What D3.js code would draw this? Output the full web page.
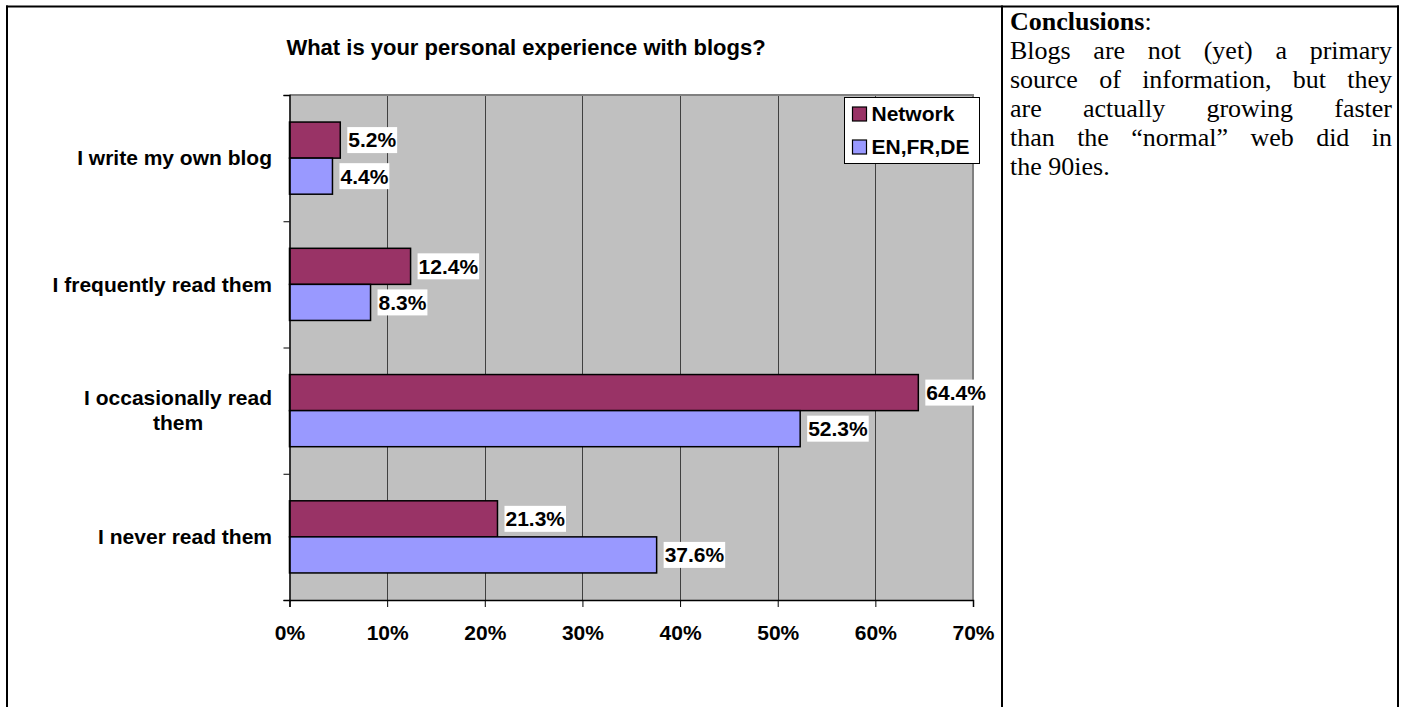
<!DOCTYPE html>
<html>
<head>
<meta charset="utf-8">
<script src="https://cdn.jsdelivr.net/npm/d3@7/dist/d3.min.js"></script>
<style>
  html, body { margin: 0; padding: 0; background: #fff; }
  svg { display: block; }
</style>
</head>
<body>
<svg id="page" width="1403" height="707"></svg>
<script>
// Survey answers, top to bottom
const categories = [
  "I write my own blog",
  "I frequently read them",
  "I occasionally read them",
  "I never read them"
];
const seriesNames = ["Network", "EN,FR,DE"];
const networkValues = [5.2, 12.4, 64.4, 21.3];
const enFrDeValues = [4.4, 8.3, 52.3, 37.6];
const xTicks = [0, 10, 20, 30, 40, 50, 60, 70];
const seriesColors = ["#993366", "#9999FF"];

const chartTitle = "What is your personal experience with blogs?";
const noteHeading = "Conclusions";
const noteLines = [
  "Blogs are not (yet) a primary",
  "source of information, but they",
  "are actually growing faster",
  "than the \u201cnormal\u201d web did in",
  "the 90ies."
];

const sans = "'Liberation Sans', Arial, sans-serif";
const serif = "'Liberation Serif', 'Times New Roman', serif";
const fs = 21;

const svg = d3.select("#page");

// ---- table frame around the chart cell and the notes cell ----
const frame = svg.append("g").attr("stroke", "#000").attr("stroke-width", 2);
frame.append("line").attr("x1", 6).attr("x2", 1399).attr("y1", 6.5).attr("y2", 6.5);
frame.append("line").attr("x1", 7).attr("x2", 7).attr("y1", 5.5).attr("y2", 707);
frame.append("line").attr("x1", 1002).attr("x2", 1002).attr("y1", 5.5).attr("y2", 707);
frame.append("line").attr("x1", 1398).attr("x2", 1398).attr("y1", 5.5).attr("y2", 707);

// ---- chart ----
const plot = { left: 289.5, right: 973, top: 95, bottom: 600 };

const x = d3.scaleLinear().domain([0, 70]).range([plot.left, plot.right]);
const y0 = d3.scaleBand().domain(categories).range([plot.top, plot.bottom]).paddingInner(0).paddingOuter(0);
const y1 = d3.scaleBand().domain(seriesNames).range([0, y0.bandwidth()]).paddingInner(0).paddingOuter(0.75);
const yEdges = d3.scaleLinear().domain([0, categories.length]).range([plot.top, plot.bottom]);

const chart = svg.append("g");

// title
chart.append("text")
  .attr("x", 526).attr("y", 55)
  .attr("text-anchor", "middle")
  .style("font-family", sans).style("font-weight", "bold").style("font-size", "22px")
  .text(chartTitle);

// plot background
chart.append("rect")
  .attr("x", plot.left).attr("y", plot.top)
  .attr("width", plot.right - plot.left).attr("height", plot.bottom - plot.top)
  .attr("fill", "#C0C0C0");

// vertical gridlines
chart.append("g").selectAll("line")
  .data(xTicks.filter(d => d > 0 && d < 70))
  .join("line")
  .attr("x1", d => Math.round(x(d)) + 0.5).attr("x2", d => Math.round(x(d)) + 0.5)
  .attr("y1", plot.top).attr("y2", plot.bottom)
  .attr("stroke", "#404040").attr("stroke-width", 1);

// top and right plot border
chart.append("path")
  .attr("d", `M${plot.left},${plot.top}H${plot.right}V${plot.bottom}`)
  .attr("fill", "none").attr("stroke", "#808080").attr("stroke-width", 2);

// bars
const rows = categories.map((c, i) => ({
  category: c,
  values: [
    { series: seriesNames[0], value: networkValues[i], color: seriesColors[0] },
    { series: seriesNames[1], value: enFrDeValues[i], color: seriesColors[1] }
  ]
}));

const groups = chart.append("g").selectAll("g")
  .data(rows)
  .join("g")
  .attr("transform", d => `translate(0,${y0(d.category)})`);

groups.selectAll("rect")
  .data(d => d.values)
  .join("rect")
  .attr("x", x(0))
  .attr("y", d => y1(d.series))
  .attr("width", d => x(d.value) - x(0))
  .attr("height", y1.bandwidth())
  .attr("fill", d => d.color)
  .attr("stroke", "#000").attr("stroke-width", 1.5);

// x axis
const xAxis = d3.axisBottom(x)
  .tickValues(xTicks)
  .tickFormat(d => d + "%")
  .tickSize(7)
  .tickPadding(18);
const gx = chart.append("g").attr("transform", `translate(0,${plot.bottom})`).call(xAxis);
gx.select(".domain").attr("stroke", "#000").attr("stroke-width", 1.5);
gx.selectAll(".tick line").attr("stroke", "#000");
gx.selectAll("text")
  .style("font-family", sans).style("font-weight", "bold").style("font-size", fs + "px")
  .attr("fill", "#000");

// y axis: ticks sit on the category boundaries
const yAxis = d3.axisLeft(yEdges)
  .tickValues(d3.range(0, categories.length + 1))
  .tickFormat("")
  .tickSize(6);
const gy = chart.append("g").attr("transform", `translate(${plot.left},0)`).call(yAxis);
gy.select(".domain").attr("stroke", "#000").attr("stroke-width", 1.5);
gy.selectAll(".tick line").attr("stroke", "#000");

// category labels, wrapped when too long and centred as a block
const labelRight = 272;
const labelMax = 225;
const catLabels = chart.append("g");
categories.forEach(cat => {
  const t = catLabels.append("text")
    .style("font-family", sans).style("font-weight", "bold").style("font-size", fs + "px");
  const words = cat.split(" ");
  const lines = [];
  let line = [];
  words.forEach(w => {
    const trial = line.concat(w).join(" ");
    t.text(trial);
    if (t.node().getComputedTextLength() > labelMax && line.length) {
      lines.push(line.join(" "));
      line = [w];
    } else {
      line.push(w);
    }
  });
  lines.push(line.join(" "));
  t.text(null);
  const cy = y0(cat) + y0.bandwidth() / 2;
  const lh = 25;
  if (lines.length === 1) {
    t.attr("x", labelRight).attr("y", cy).attr("dy", "0.35em")
      .attr("text-anchor", "end").text(lines[0]);
  } else {
    const widths = lines.map(l => { t.text(l); return t.node().getComputedTextLength(); });
    t.text(null);
    const cx = labelRight - d3.max(widths) / 2;
    lines.forEach((l, k) => {
      t.append("tspan")
        .attr("x", cx)
        .attr("y", cy + (k - (lines.length - 1) / 2) * lh)
        .attr("dy", "0.35em")
        .attr("text-anchor", "middle")
        .text(l);
    });
  }
});

// value labels on white boxes
groups.each(function (d) {
  const g = d3.select(this);
  d.values.forEach(v => {
    const cy = y1(v.series) + y1.bandwidth() / 2;
    const lbl = g.append("g");
    const box = lbl.append("rect").attr("fill", "#fff");
    const t = lbl.append("text")
      .attr("x", x(v.value) + 8).attr("y", cy).attr("dy", "0.35em")
      .style("font-family", sans).style("font-weight", "bold").style("font-size", fs + "px")
      .text(v.value.toFixed(1) + "%");
    const w = t.node().getComputedTextLength();
    box.attr("x", x(v.value) + 7).attr("y", cy - 13).attr("width", w + 2).attr("height", 26);
  });
});

// legend
const legend = chart.append("g").attr("transform", "translate(844.5,97.5)");
legend.append("rect").attr("width", 135).attr("height", 66)
  .attr("fill", "#fff").attr("stroke", "#000").attr("stroke-width", 1);
seriesNames.forEach((s, i) => {
  const cy = 16.5 + i * 33;
  legend.append("rect")
    .attr("x", 8).attr("y", cy - 7).attr("width", 14).attr("height", 14)
    .attr("fill", seriesColors[i]).attr("stroke", "#000").attr("stroke-width", 1.2);
  legend.append("text")
    .attr("x", 27).attr("y", cy).attr("dy", "0.35em")
    .style("font-family", sans).style("font-weight", "bold").style("font-size", fs + "px")
    .text(s);
});

// ---- notes cell: heading plus justified paragraph ----
const note = svg.append("g");
const noteLeft = 1010, noteRight = 1392, noteFs = 26, noteLh = 29, noteTop = 30;
const head = note.append("text")
  .attr("x", noteLeft).attr("y", noteTop)
  .style("font-family", serif).style("font-size", noteFs + "px");
head.append("tspan").style("font-weight", "bold").text(noteHeading);
head.append("tspan").text(":");

noteLines.forEach((line, i) => {
  const yy = noteTop + (i + 1) * noteLh;
  const words = line.split(" ");
  const last = i === noteLines.length - 1;
  const ws = words.map(w => {
    const t = note.append("text")
      .attr("y", yy)
      .style("font-family", serif).style("font-size", noteFs + "px")
      .text(w);
    return { node: t, w: t.node().getComputedTextLength() };
  });
  const total = d3.sum(ws, d => d.w);
  const space = last ? noteFs * 0.25 : (noteRight - noteLeft - total) / (words.length - 1);
  let cx = noteLeft;
  ws.forEach(d => {
    d.node.attr("x", cx);
    cx += d.w + space;
  });
});
</script>
</body>
</html>
